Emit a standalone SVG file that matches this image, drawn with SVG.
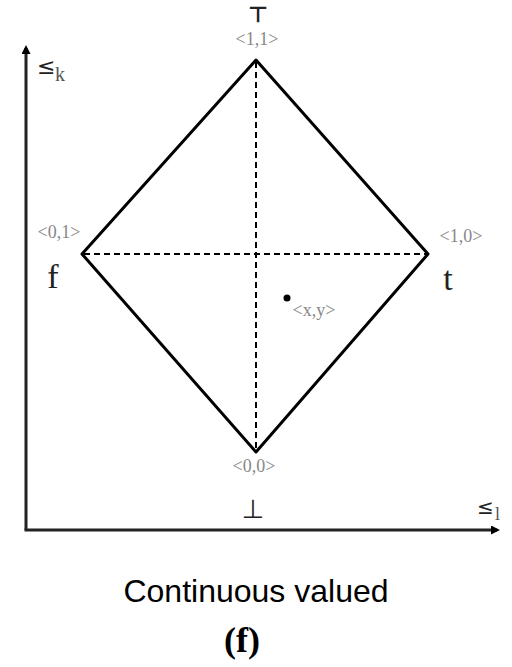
<svg xmlns="http://www.w3.org/2000/svg" width="512" height="667" viewBox="0 0 512 667">
<style>
.lbl{font-family:"Liberation Serif",serif;fill:#888;font-size:18px}
.sym{font-family:"DejaVu Sans",sans-serif;fill:#222}
.edge{stroke:#000;stroke-width:3;fill:none;stroke-linejoin:round}
.dash{stroke:#000;stroke-width:2;stroke-dasharray:6,4;fill:none}
.axis{stroke:#222;stroke-width:3;fill:none}
</style>
<defs>
<marker id="ah" markerWidth="9" markerHeight="9" refX="6" refY="4.5" orient="auto" markerUnits="userSpaceOnUse">
<path d="M0,0 L9,4.5 L0,9 Z" fill="#000"/>
</marker>
</defs>
<rect width="512" height="667" fill="#fff"/>
<g id="connectors">
<line class="axis" x1="26" y1="530" x2="26" y2="48" marker-end="url(#ah)"/>
<line class="axis" x1="24.5" y1="530" x2="497" y2="530" marker-end="url(#ah)"/>
<polygon class="edge" points="256,60 428,254 256,452 82,254"/>
<line class="dash" x1="256" y1="62" x2="256" y2="450"/>
<line class="dash" x1="84" y1="254" x2="426" y2="254"/>
</g>
<g id="top"><text class="sym" x="258" y="22" font-size="22" font-weight="bold" text-anchor="middle">⊤</text><text class="lbl" x="257" y="45" text-anchor="middle">&lt;1,1&gt;</text></g>
<g id="left"><text class="lbl" x="59" y="238" text-anchor="middle">&lt;0,1&gt;</text><text x="53" y="288" font-family="Liberation Serif,serif" font-size="34" fill="#222" text-anchor="middle">f</text></g>
<g id="right"><text class="lbl" x="461" y="242" text-anchor="middle">&lt;1,0&gt;</text><text x="448" y="290" font-family="Liberation Serif,serif" font-size="34" fill="#222" text-anchor="middle">t</text></g>
<g id="bottom"><text class="lbl" x="254" y="472" text-anchor="middle">&lt;0,0&gt;</text><text class="sym" x="253" y="518" font-size="26" text-anchor="middle">⊥</text></g>
<g id="point"><circle cx="287" cy="298" r="3.5" fill="#000"/><text class="lbl" x="314" y="316" text-anchor="middle">&lt;x,y&gt;</text></g>
<g id="axis-k"><text class="sym" x="37" y="74" font-size="22" fill="#555">≤</text><text x="55" y="81" font-family="Liberation Serif,serif" font-size="20" fill="#555">k</text></g>
<g id="axis-t"><text class="sym" x="477" y="514" font-size="20" fill="#555">≤</text><text x="495" y="520" font-family="Liberation Serif,serif" font-size="18" fill="#555">l</text></g>
<text x="256" y="602" font-family="Liberation Sans,Arial,sans-serif" font-size="32" fill="#000" text-anchor="middle">Continuous valued</text>
<text x="242" y="652" font-family="Liberation Serif,serif" font-size="36" font-weight="bold" fill="#000" text-anchor="middle">(f)</text>
</svg>
